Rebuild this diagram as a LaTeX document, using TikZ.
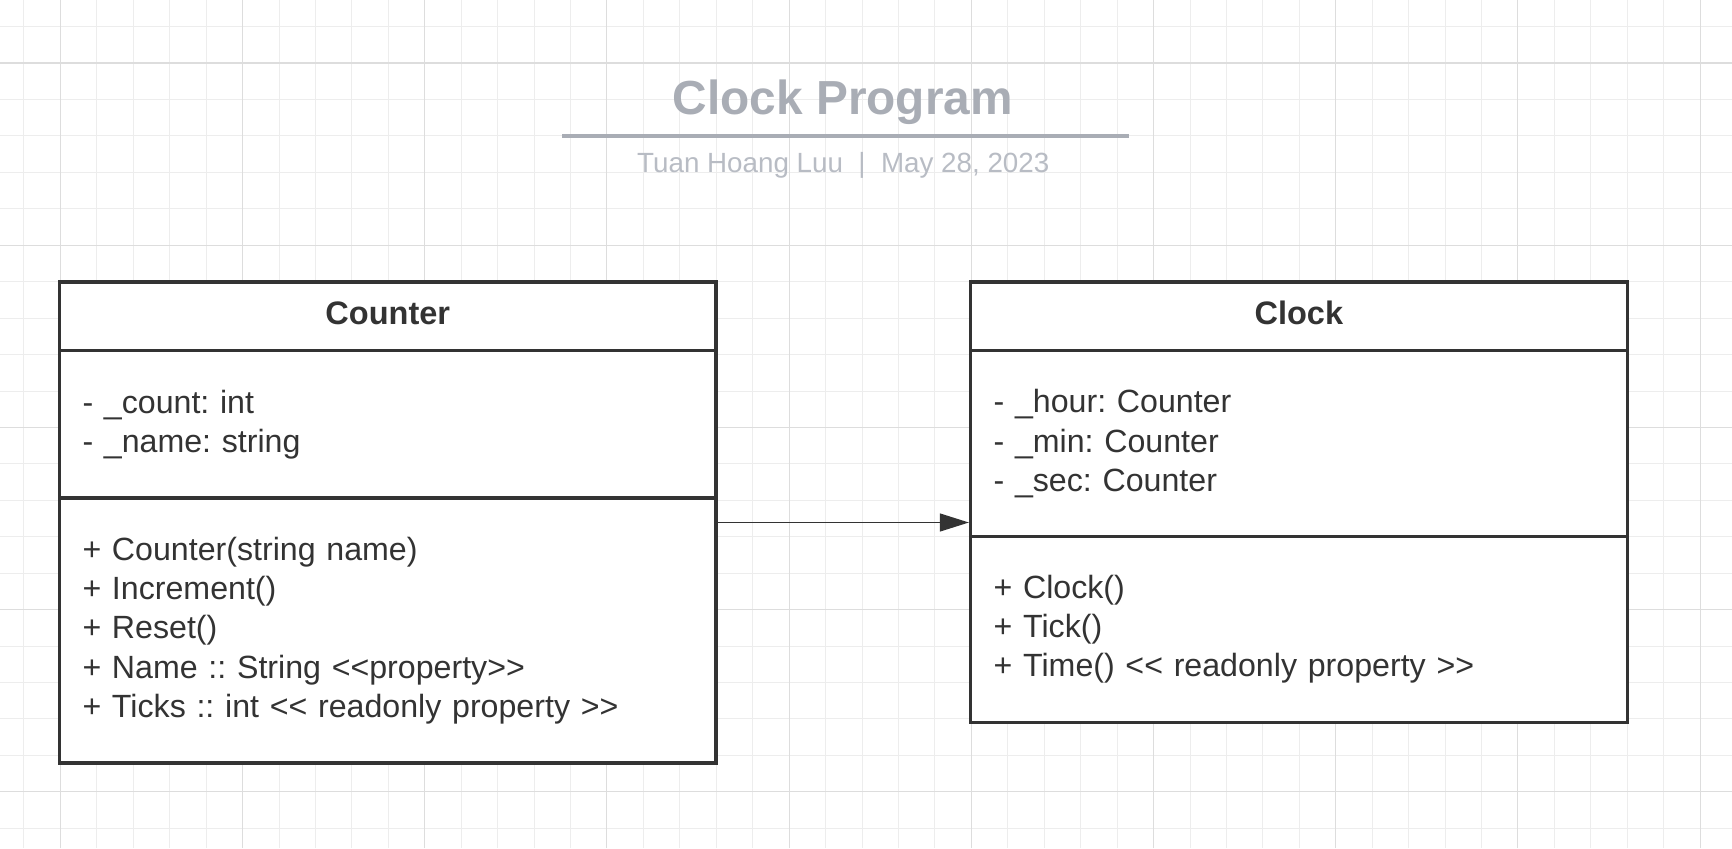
\documentclass[tikz,border=0pt]{standalone}
\usepackage{fontspec}
\setmainfont{Liberation Sans}
\newfontfamily\bodyfont{Liberation Sans}
\usetikzlibrary{arrows.meta, positioning, fit}
\definecolor{titlegray}{HTML}{A9ADB5}
\definecolor{subgray}{HTML}{B8BCC4}
\definecolor{gridminor}{HTML}{EDEDED}
\definecolor{gridmajor}{HTML}{DDDDDD}
\definecolor{boxline}{HTML}{333333}
\definecolor{textdark}{HTML}{333333}
\newcommand{\dlt}{<\kern0pt<}
\newcommand{\dgt}{>\kern0pt>}
\frenchspacing

\begin{document}
\begin{tikzpicture}[
  classpart/.style={draw=boxline, line width=1.75pt, fill=white, text=textdark,
    outer sep=0pt, inner xsep=0.46cm, inner ysep=0pt, text width=12.21cm},
  classhead/.style={classpart, align=center, minimum height=1.374cm, text depth=0.13cm,
    font=\fontsize{18.5}{22}\selectfont\bfseries},
  classbody/.style={classpart, align=left, font=\bodyfont\fontsize{18.3}{22.3}\selectfont},
  assoc/.style={draw=boxline, line width=0.75pt,
    -{Triangle[length=0.58cm, width=0.36cm]}, shorten >=1pt}
]

% Page and background
\useasboundingbox (0,0) rectangle (34.64,16.96);
\fill[white] (0,0) rectangle (34.64,16.96);

% Grid paper
\begin{scope}[shift={(1.206,15.70)}]
  \draw[gridminor, line width=0.5pt, step=0.7288] (-1.206,-15.70) grid (33.434,1.26);
  \draw[gridmajor, line width=0.6pt, step=3.644] (-1.206,-15.70) grid (33.434,1.26);
\end{scope}

% Title block
\node[text=titlegray, font=\fontsize{27.2}{30}\selectfont\bfseries, anchor=base] (title)
  at (16.856,14.674) {Clock Program};
\draw[titlegray, line width=2.2pt] (11.24,14.24) -- (22.574,14.24);
\node[text=subgray, font=\fontsize{15.8}{18}\selectfont, anchor=base] (byline)
  at (16.866,13.506) {Tuan Hoang Luu\ \ |\ \ May 28, 2023};

% ============================================================
% Counter class
% ============================================================
\node[classhead] (counterhead) at (7.755,10.633) {Counter};
\node[classbody, minimum height=2.946cm, below=0pt of counterhead] (counterattr)
  {- \_count: int\\- \_name: string};
\node[classbody, minimum height=5.3cm, below=0pt of counterattr] (counterops)
  {+ Counter(string name)\\+ Increment()\\+ Reset()\\+ Name :: String \dlt property\dgt\\+ Ticks :: int \dlt{} readonly property \dgt};
\node[fit=(counterhead)(counterops), inner sep=0pt, outer sep=0pt] (counter) {};

% ============================================================
% Clock class
% ============================================================
\node[classhead] (clockhead) at (25.977,10.633) {Clock};
\node[classbody, minimum height=3.72cm, below=0pt of clockhead] (clockattr)
  {- \_hour: Counter\\- \_min: Counter\\- \_sec: Counter};
\node[classbody, minimum height=3.71cm, below=0pt of clockattr] (clockops)
  {+ Clock()\\+ Tick()\\+ Time() \dlt{} readonly property \dgt};
\node[fit=(clockhead)(clockops), inner sep=0pt, outer sep=0pt] (clock) {};

% Association
\draw[assoc] (counter.east) -- (counter.east -| clock.west);

\end{tikzpicture}
\end{document}
